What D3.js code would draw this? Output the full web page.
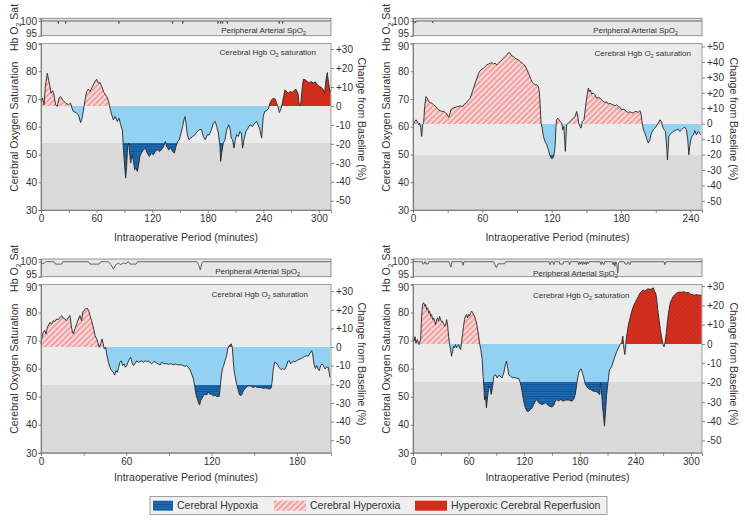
<!DOCTYPE html>
<html><head><meta charset="utf-8">
<script src="https://cdn.jsdelivr.net/npm/d3@7/dist/d3.min.js"></script>
<style>body{margin:0;background:#fff;}svg{font-family:"Liberation Sans",Arial,Helvetica,sans-serif;}</style>
</head><body><svg id="c" width="745" height="522"></svg>
<script>
// ---------- DATA (minutes, cerebral O2 saturation %) ----------
const p1Series=[[0,69.1],[1.8,70.3],[3.2,67.9],[4.7,74.5],[6.8,79.3],[9,75.7],[10.8,72.1],[12.6,73],[14,71.5],[15.8,67.9],[17.6,67.3],[19.4,70.3],[21.2,70.9],[23.4,69.7],[24.8,69.1],[27,68.5],[29.5,67.9],[32,68.5],[33.5,66.7],[34.9,65.5],[37.8,65.1],[40.3,64.3],[42.8,61.5],[44.6,63.4],[46.4,67.3],[48.2,70.9],[49.3,72.7],[51.1,73.5],[52.9,72.7],[55.8,74.7],[58.3,76.3],[60.1,77.1],[61.9,75.7],[63.7,75.9],[65.5,74.5],[68,72.3],[70.9,70.9],[73,69.1],[74.5,66.7],[76.3,64.3],[78.1,62.5],[79.9,63.7],[82.4,61.9],[84.2,63.1],[86,60.7],[87.8,58.9],[88.8,52.9],[90.3,45.7],[91.4,41.5],[92.4,45.7],[93.5,52.9],[94.6,54.1],[95.3,51.7],[96.8,46.9],[98.2,49.9],[99.6,48.1],[101.1,44.5],[102.5,45.1],[104,43.9],[105.4,46.3],[106.8,49.3],[108.3,50.5],[110.4,51.7],[112.6,52.3],[114.7,50.5],[116.9,49.3],[119.1,50.5],[121.2,49.9],[123.4,51.1],[125.5,51.7],[127.7,51.1],[129.9,51.7],[132,52.7],[134.2,54.7],[135.6,52.9],[137.8,51.7],[139.9,52.3],[142.1,51.1],[143.9,50.5],[145.7,52.9],[147.5,54.7],[149.3,55.3],[151.1,57.7],[152.9,60.1],[154.3,62.5],[155.4,63.7],[156.5,61.3],[157.9,57.1],[159.7,55.3],[161.5,55.9],[163.7,56.5],[166.2,57.1],[168.7,58.3],[170.9,58.9],[173,59.1],[175.2,56.5],[177.3,55.3],[179.5,57.1],[181.7,57.1],[183.8,58.9],[186,61.3],[188.1,61.9],[189.6,60.1],[191.4,57.7],[193.2,52.9],[193.9,47.5],[195,50.5],[196.8,54.1],[198.6,55.3],[200.4,58.9],[202.5,60.7],[203.9,59.5],[205.4,55.9],[206.8,55.3],[208.3,52.3],[209.7,55.3],[211.2,57.1],[213,56.5],[214.7,58.3],[216.2,57.7],[217.6,52.3],[219.1,55.3],[221.2,58.3],[223.4,59.5],[225.5,60.7],[228.4,60.1],[230.6,61.3],[232.7,61.9],[234.9,60.3],[236.3,58.9],[238.1,55.9],[239.9,63.7],[241.4,65.5],[243.5,65.8],[245.7,66.7],[247.1,68.5],[248.9,69.7],[250.7,70.3],[252.9,69.9],[254.3,68.5],[255.8,67.3],[257.2,65.1],[258.6,66.1],[260.1,67.9],[261.5,70.3],[263.3,73.3],[265.1,72.7],[266.9,72.1],[268.7,72.7],[270.9,72.3],[273,73],[275.2,73.5],[277.3,72.1],[278.8,67.9],[280.2,67.5],[281.7,73.3],[283.1,77.1],[285.3,76.9],[287.4,76.3],[289.6,75.9],[291.7,76.3],[293.9,75.7],[296,76.2],[298.2,75.1],[300.4,74.5],[302.5,74.2],[304.7,73.3],[306.1,72.1],[307.6,76.9],[309,79.5],[310.4,75.7],[311.9,72.7],[312.6,73.3]];
const p2Series=[[0,60.7],[1.4,61.9],[2.6,62.5],[3.7,61.9],[4.9,60.7],[5.8,61.3],[6.6,59.8],[7.5,56.5],[8.3,60.7],[9.2,61.3],[10.1,67.3],[11.2,70.9],[12.4,70.3],[13.5,69.1],[15,68.7],[16.4,68.5],[17.8,67.9],[19.3,67.5],[20.7,66.7],[22.2,66.1],[23.6,65.8],[25,65.5],[26.5,65.6],[27.9,65.1],[29.4,64.6],[30.8,63.4],[31.7,64.3],[32.8,66.1],[34.2,66.7],[36.5,67.0],[38.8,67.3],[41.2,67.5],[43.2,67.3],[44.6,68.2],[46,68.5],[48.1,69.7],[49.5,70.3],[50.9,72.1],[52.4,73.9],[53.8,75.7],[55.3,77.5],[56.7,79.3],[58.1,80.2],[59.6,80.7],[61,81.1],[62.4,81.7],[63.9,82.3],[65.3,82.6],[66.8,82.9],[68.2,83.1],[69.6,82.6],[71.1,82.9],[72.5,82.3],[74,82.9],[75.4,83.5],[76.8,84.1],[78.3,84.7],[79.7,85.3],[81.2,85.9],[82.6,86.7],[84,86.5],[85.5,85.5],[86.9,85.3],[88.3,84.7],[89.8,84.3],[91.2,84.1],[92.7,83.5],[94.1,83.1],[95.5,82.6],[97,81.9],[98.4,80.7],[99.9,79.3],[101.3,77.8],[102.7,76.3],[104.2,75.7],[105.6,75.1],[107.1,75.1],[108.5,74.5],[109.4,72.1],[110.2,66.1],[110.8,61.3],[111.7,59.5],[112.8,56.5],[114.2,54.7],[115.7,53.5],[117.1,51.7],[118.3,49.9],[119.4,48.7],[120.6,48.6],[121.7,49.3],[122.9,52.9],[123.7,60.1],[124.3,62.5],[125.2,63.1],[126.3,62.5],[127.5,61.9],[128.6,61.3],[129.5,58.9],[130.4,60.1],[131.2,55.3],[131.8,51.1],[132.4,56.5],[132.9,60.7],[134.4,61.3],[135.8,61.9],[137.3,62.5],[138.7,63.1],[140.1,63.7],[141.6,65.5],[142.4,64.3],[143.3,61.3],[144.5,60.1],[145.3,59.5],[146.5,61.9],[147.9,62.5],[148.8,65.5],[150.2,70.3],[151.7,73.9],[152.5,72.7],[153.4,73.3],[154.5,71.8],[156,72.1],[157.4,71.5],[158.8,70.3],[160.3,70.6],[161.7,70.3],[163.2,69.7],[164.6,69.1],[166,68.7],[167.5,69.0],[168.9,68.2],[170.4,68.5],[171.8,68.1],[173.2,67.9],[174.7,67.5],[176.1,67.9],[177.6,67.3],[179,67.0],[180.4,66.1],[181.9,66.3],[183.3,66.1],[184.7,65.5],[186.2,65.1],[187.6,65.4],[189.1,65.1],[190.5,64.9],[191.9,65.5],[193.4,65.5],[194.8,65.1],[196.3,65.8],[197.1,64.9],[198.3,61.3],[199.4,58.9],[200.6,57.7],[202,55.9],[203.5,54.1],[204.9,55.3],[205.8,57.1],[206.9,58.3],[208.1,59.1],[209.2,59.5],[210.6,60.3],[212.1,61.3],[213.5,62.5],[215,61.9],[215.5,60.7],[216.4,59.5],[217.3,58.9],[218.4,58.3],[219.6,51.7],[220.1,48.1],[220.7,51.7],[221.3,56.5],[222.2,57.1],[223.6,57.7],[225,58.3],[226.5,58.6],[227.9,58.9],[229.4,59.1],[230.8,58.3],[232.2,58.9],[233.7,59.5],[235.1,59.8],[236.5,58.9],[237.7,55.3],[238.6,49.9],[239.4,52.9],[240.3,55.3],[241.4,56.5],[242.6,57.1],[243.7,58.6],[245.2,57.1],[246.6,58.3],[248.1,57.7],[248.9,57.1]];
const p3Series=[[0,68.8],[0.7,71.2],[1.6,73.0],[2.6,73.6],[3.5,72.4],[4.5,74.8],[5.4,75.6],[6.3,76.5],[7.5,75.9],[8.7,77.1],[9.8,76.8],[11,77.7],[12.2,77.5],[13.4,78.3],[14.5,78.9],[15.7,78.0],[16.9,77.7],[18.1,77.1],[19.2,78.3],[20.4,78.9],[21.6,74.2],[22.7,72.4],[23.9,74.2],[25.1,75.9],[26.3,77.7],[27.4,78.9],[28.6,77.1],[29.3,80.1],[30.2,80.7],[31.4,81.3],[32.6,81.5],[33.5,80.7],[34.5,78.9],[35.6,77.1],[36.8,74.8],[38,71.8],[39.2,70.6],[40.3,68.8],[41,67.6],[42,68.8],[42.9,70.6],[43.8,68.8],[44.5,67.0],[45.5,67.6],[46.2,65.2],[47.4,62.3],[48.5,60.5],[49.7,59.3],[50.9,58.7],[51.8,57.7],[52.8,59.3],[53.7,58.7],[54.6,60.5],[55.6,62.3],[56.5,62.8],[57.4,61.1],[58.4,61.7],[59.3,60.5],[60.3,61.1],[61.2,62.3],[62.1,63.4],[63.1,64.0],[64,62.3],[64.9,61.1],[66.1,61.7],[67.3,62.8],[68.5,62.3],[69.6,62.5],[70.8,62.8],[72,62.3],[73.2,62.8],[74.3,62.5],[75.5,62.7],[76.7,62.3],[77.8,61.7],[79,62.3],[80.2,62.5],[81.4,62.0],[82.5,61.7],[83.7,61.3],[84.9,62.3],[86.1,61.9],[87.2,61.7],[88.4,61.8],[89.6,61.5],[90.7,61.7],[91.9,61.7],[93.1,61.3],[94.3,61.7],[95.4,61.5],[96.6,61.3],[97.8,61.4],[98.9,61.3],[100.1,61.1],[101.3,60.8],[102.5,61.1],[103.6,60.5],[104.8,59.6],[106,58.1],[107.2,56.3],[108.1,53.9],[109,50.9],[110,49.2],[110.9,47.7],[111.6,47.0],[112.3,48.6],[113.2,49.4],[114.2,50.3],[115.4,50.9],[116.5,50.6],[117.7,51.5],[118.9,50.9],[120,50.9],[121.2,50.3],[122.4,50.6],[123.6,50.1],[124.7,50.1],[125.4,50.1],[125.9,52.7],[126.6,56.3],[127.6,59.9],[128.5,61.1],[129.4,62.8],[130.6,64.6],[131.3,67.0],[132.2,68.2],[132.9,68.4],[133.9,68.8],[134.6,67.6],[135.3,62.3],[136,58.7],[136.9,56.3],[137.6,54.5],[138.6,52.7],[139.5,50.9],[140.4,50.3],[141.4,50.9],[142.3,52.1],[143.3,52.7],[144.2,53.3],[145.1,53.7],[146.5,53.9],[147.9,53.7],[149.4,53.3],[150.8,53.7],[152.2,53.3],[153.6,53.3],[155,53.2],[156.4,53.0],[157.8,53.1],[159.2,53.0],[160.6,52.7],[161.8,53.0],[162.5,55.1],[163.4,59.9],[164.4,62.3],[165.3,62.0],[166.3,61.7],[167.2,60.5],[168.1,60.1],[169.1,59.6],[170,60.1],[170.9,59.6],[171.9,60.1],[172.8,61.1],[173.7,62.7],[174.7,62.8],[175.6,61.7],[176.6,62.3],[177.5,62.6],[178.7,62.5],[179.8,62.8],[181,63.2],[182.2,63.4],[183.4,63.7],[184.5,64.0],[185.7,64.4],[186.9,64.6],[188,64.4],[189.2,65.5],[190.4,66.4],[191.1,65.2],[192,61.7],[193,60.1],[193.9,61.1],[194.8,59.9],[195.8,59.3],[196.7,61.1],[197.7,61.7],[198.6,61.1],[199.8,59.9],[200.9,60.5],[202.1,60.5],[203.3,56.9]];
const p4Series=[[0,70.9],[1.1,69.8],[2.2,71.4],[3.2,69.2],[4.7,70.4],[6.5,68.6],[8.3,70.4],[9.3,78.7],[10.4,82.9],[11.5,83.5],[12.6,82.3],[13.6,82.9],[14.7,81.1],[15.8,81.7],[16.9,79.9],[17.9,80.5],[19,78.7],[20.1,79.3],[21.2,77.5],[22.3,78.1],[23.3,76.9],[24.4,75.7],[25.5,77.5],[26.6,78.1],[27.6,76.9],[28.7,78.7],[29.8,77.5],[30.9,76.6],[31.9,76.9],[33,76.1],[34.1,75.1],[35.2,75.4],[36.3,77.5],[37.3,75.7],[38.4,71.6],[39.5,68.6],[40.6,66.8],[41.6,64.4],[42.7,66.2],[43.8,68.0],[44.9,67.4],[45.9,68.6],[47,67.4],[48.1,68.0],[49.2,68.6],[50.3,67.4],[51.3,66.8],[52.4,69.2],[53.5,72.2],[54.6,75.1],[55.6,77.5],[56.7,78.7],[57.8,79.3],[58.9,78.1],[59.9,79.3],[61,78.7],[62.1,79.7],[63.2,80.5],[64.2,80.1],[65.3,79.3],[66.4,78.7],[67.5,77.5],[68.9,75.7],[70.4,72.7],[71.8,69.2],[73.2,66.8],[74.7,63.3],[75.7,57.3],[76.5,53.7],[77.2,48.9],[78.2,50.2],[79.3,46.0],[80,48.4],[81.1,51.4],[82.2,53.8],[83.3,53.2],[84.4,50.8],[85.4,52.6],[86.5,55.0],[87.2,57.3],[89,57.9],[90.8,56.7],[92.6,57.6],[94.4,57.3],[96.2,56.7],[98,58.5],[99.8,61.5],[100.9,62.7],[101.9,60.9],[103.4,57.9],[105.2,57.3],[107,56.7],[108.8,56.9],[110.6,56.7],[114.1,56.5],[115.9,55.0],[117.7,52.0],[119.5,48.4],[121.3,46.0],[123.1,44.8],[124.9,44.8],[126.7,45.4],[128.5,46.0],[130.3,47.2],[132.1,48.4],[133.9,49.0],[135.7,47.8],[139.3,47.2],[142.9,47.8],[146.4,46.8],[150,46.3],[151.8,46.8],[153.6,48.4],[155.4,49.0],[157.2,48.4],[159,49.0],[162.6,48.4],[164.4,48.8],[168,48.8],[171.6,48.4],[173.4,49.0],[175.2,50.8],[177,55.0],[178.8,58.5],[180.5,59.7],[181.6,59.9],[183.1,58.3],[184.1,57.1],[185.9,54.7],[187.7,53.5],[189.5,52.9],[191.3,52.6],[193.1,52.3],[194.9,51.9],[196.7,51.9],[198.5,51.7],[200.3,51.1],[201.7,50.8],[202.4,55.0],[203.2,52.6],[203.9,50.2],[204.6,46.6],[205.3,44.3],[206,41.9],[206.7,39.5],[207.5,43.1],[208.2,46.6],[208.9,50.2],[210,53.8],[211.1,56.8],[212.1,59.7],[213.2,60.0],[214.6,60.9],[216.4,62.7],[218.2,64.5],[220,66.2],[221.8,67.4],[223.6,68.6],[225.4,69.4],[226.5,71.6],[227.2,68.6],[227.9,66.8],[228.6,65.0],[229.4,66.8],[230.1,70.4],[231.2,72.8],[232.6,75.7],[234.4,78.1],[236.2,80.5],[238,82.3],[239.8,83.5],[241.6,84.7],[243.4,85.8],[245.2,87.0],[247,87.6],[248.7,88.0],[250.5,87.6],[252.3,88.2],[254.1,88.5],[255.9,88.2],[257.7,88.5],[259.5,88.8],[260.6,87.6],[262,87.0],[263.1,84.7],[264.2,81.1],[265.6,77.5],[267,74.0],[268.5,71.0],[269.9,68.6],[271,67.8],[272.1,69.2],[273.5,72.8],[274.9,77.5],[276.4,81.1],[277.8,83.5],[279.3,84.7],[281,85.8],[282.8,86.4],[284.6,87.0],[286.4,87.2],[288.2,87.3],[290,87.2],[291.8,87.4],[293.6,87.3],[295.4,87.0],[297.2,87.2],[299,86.7],[300.8,86.4],[302.6,86.3],[304.4,86.2],[306.2,86.4],[308,86.2],[309.8,86.2],[311.6,86.2]];

// peripheral arterial SpO2 (minutes, %)
const p1Spo2=[[0,100],[18.4,100],[18.7,99.1],[19,100],[26.3,100],[26.6,99.1],[26.9,100],[83.8,100],[84.1,99.1],[84.4,100],[141.7,100],[142,99.1],[142.3,100],[152.7,100],[153,99.1],[153.3,100],[190.7,100],[191,99.1],[191.3,100],[193.5,100],[193.8,99.1],[194.1,100],[195.7,100],[196,99.1],[196.3,100],[200.7,100],[201,99.1],[201.3,100],[256.7,100],[257,99.1],[257.3,100],[260.4,100],[260.7,99.1],[261,100],[313,100]];
const p2Spo2=[[0,100],[0.8,99.2],[1.6,100],[2.2,99.4],[2.8,100],[16.7,100],[17,99.3],[17.3,100],[250,100]];
const p3Spo2=[[0,100],[0.5,99.3],[2.2,99.5],[3.4,100],[9.1,100],[10.3,99.2],[14.5,99.2],[15.4,100],[33.3,100],[34.5,99.2],[40.9,99.2],[42.1,100],[47.3,100],[49.2,99],[51,97.5],[52.5,99],[54.4,99.5],[56.1,99],[57.9,99.6],[59.8,99.4],[61.5,100],[62.7,99.2],[66.9,99.2],[67.9,100],[109.6,100],[110.8,99],[112,97.3],[113.2,99.5],[113.9,100],[204,100]];
const p4Spo2=[[0,100],[10,100],[10.5,99.3],[12,99.3],[12.5,100],[13.5,100],[14,99.3],[16.5,99.3],[17,100],[39,100],[40,99.0],[41,98.2],[42,100],[53,100],[54,98.8],[55,100],[87,100],[88,99.3],[90,98.0],[92,99.3],[99,99.3],[100,100],[147,100],[148,99.0],[149,100],[151,100],[152,99.0],[153,100],[158,100],[158.5,99.2],[162,99.2],[162.5,100],[168,100],[169,99.0],[170,100],[178,100],[179,99.0],[180,100],[181,99.2],[182,100],[183,99.0],[184,100],[185,99.2],[186,100],[187,99.0],[188,100],[189,99.3],[190,100],[202,100],[203,99.0],[204,100],[206,99.0],[207,100],[215,100],[216,99.0],[217,100],[218,98.5],[219,100],[220,99],[221,96.2],[222,99.5],[223,100],[228,100],[229,99.2],[231,99.2],[232,100],[234,99.0],[235,100],[271,100],[272,99.0],[273,100],[312,100]];

const baselines=[67.5,61.1,67.7,68.8];          // 0 % change level
const thresholds=[54,50,54.2,55.1];             // hypoxia threshold
const pctUnit=[0.683,0.556,0.664,0.688];        // saturation points per 1 % change
const xMaxes=[313,250,204,312];
const xLabelTicks=[[0,60,120,180,240,300],[0,60,120,180,240],[0,60,120,180],[0,60,120,180,240,300]];
const pctTicks=[[30,20,10,0,-10,-20,-30,-40,-50],[50,40,30,20,10,0,-10,-20,-30,-40,-50],[30,20,10,0,-10,-20,-30,-40,-50],[30,20,10,0,-10,-20,-30,-40,-50]];
const reperfusion=[[[240,313]],[],[[128,140]],[[212,312]]];
const satTicks=[30,40,50,60,70,80,90];
const spoTicks=[95,100];
const legendItems=["Cerebral Hypoxia","Cerebral Hyperoxia","Hyperoxic Cerebral Reperfusion"];

// ---------- LAYOUT ----------
const cols=[{x0:41,x1:331,rt:358},{x0:413,x1:702,rt:730}];
const rows=[{sTop:18.3,sBot:35.7,mTop:43.5,mBot:210,xt:240.5,rtY:119},{sTop:259,sBot:276.7,mTop:284.5,mBot:452.8,xt:481,rtY:364}];
const labelPos=[
 {spo:{x:306,y:33,a:'end'},cer:{x:316,y:55,a:'end'}},
 {spo:{x:678,y:33,a:'end'},cer:{x:691,y:56,a:'end'}},
 {spo:{x:300,y:274,a:'end'},cer:{x:308,y:296.5,a:'end'}},
 {spo:{x:533,y:276,a:'start'},cer:{x:533,y:298,a:'start'}}
];
const seriesAll=[p1Series,p2Series,p3Series,p4Series];
const spoAll=[p1Spo2,p2Spo2,p3Spo2,p4Spo2];

const C={bgHi:'#ebebeb',bgLo:'#dadada',strip:'#e6e6e6',light:'#93d1f3',line:'#262626',axis:'#6b6b6b',text:'#333'};
const svg=d3.select('#c');
const defs=svg.append('defs');

function pat(id,w,h,bg,rot,lines){
  const p=defs.append('pattern').attr('id',id).attr('patternUnits','userSpaceOnUse').attr('width',w).attr('height',h);
  if(rot) p.attr('patternTransform','rotate('+rot+')');
  p.append('rect').attr('width',w).attr('height',h).attr('fill',bg);
  lines(p);
}
pat('hypo',4,2.4,'#1d6cb4',0,p=>p.append('line').attr('x1',0).attr('x2',4).attr('y1',0.5).attr('y2',0.5).attr('stroke','#0d4a88').attr('stroke-width',0.8));
pat('hyper',4,4,'#f9d8d8',45,p=>p.append('line').attr('x1',1).attr('x2',1).attr('y1',0).attr('y2',4).attr('stroke','#ec8484').attr('stroke-width',1.3));
pat('reper',3,3,'#d9321f',45,p=>p.append('line').attr('x1',1).attr('x2',1).attr('y1',0).attr('y2',3).attr('stroke','#b51f10').attr('stroke-width',0.7));

function clip(id,rects){
  const cp=defs.append('clipPath').attr('id',id);
  rects.forEach(r=>cp.append('rect').attr('x',r[0]).attr('y',r[1]).attr('width',Math.max(0,r[2])).attr('height',Math.max(0,r[3])));
}
function richText(g,x,y,anchor,size,parts,fill){
  const t=g.append('text').attr('x',x).attr('y',y).attr('text-anchor',anchor).attr('font-size',size).attr('fill',fill||C.text);
  let shifted=false;
  parts.forEach(p=>{
    const ts=t.append('tspan').text(p[0]);
    if(p[1]){ts.attr('font-size',size*0.68).attr('dy',size*0.3);shifted=true;}
    else if(shifted){ts.attr('dy',-size*0.3);shifted=false;}
  });
  return t;
}
function styleAxis(g){
  g.select('.domain').attr('stroke',C.axis).attr('stroke-width',0.8);
  g.selectAll('.tick line').attr('stroke',C.axis).attr('stroke-width',0.8);
  g.selectAll('.tick text').attr('fill',C.text).attr('font-size',10).attr('font-family','"Liberation Sans",Arial,sans-serif');
}

for(let i=0;i<4;i++){
  const col=cols[i%2], row=rows[Math.floor(i/2)];
  const data=seriesAll[i], base=baselines[i], thr=thresholds[i];
  const g=svg.append('g');
  const x=d3.scaleLinear().domain([0,xMaxes[i]]).range([col.x0,col.x1]);
  const y=d3.scaleLinear().domain([30,90]).range([row.mBot,row.mTop]);
  const ys=d3.scaleLinear().domain([95,100.9]).range([row.sBot,row.sTop]);
  const yb=Math.round(y(base)), yt=Math.round(y(thr)), w=col.x1-col.x0;

  // backgrounds
  g.append('rect').attr('x',col.x0).attr('y',row.sTop).attr('width',w).attr('height',row.sBot-row.sTop).attr('fill',C.strip);
  g.append('rect').attr('x',col.x0).attr('y',row.mTop).attr('width',w).attr('height',yt-row.mTop).attr('fill',C.bgHi);
  g.append('rect').attr('x',col.x0).attr('y',yt).attr('width',w).attr('height',row.mBot-yt).attr('fill',C.bgLo);

  // clip regions
  const red=reperfusion[i];
  const normal=[]; let s=0;
  red.forEach(r=>{ if(r[0]>s) normal.push([s,r[0]]); s=r[1]; });
  if(s<xMaxes[i]) normal.push([s,xMaxes[i]]);
  clip('pk'+i, normal.map(r=>[x(r[0]),row.mTop,x(r[1])-x(r[0]),yb-row.mTop]));
  clip('rd'+i, red.map(r=>[x(r[0]),row.mTop,x(r[1])-x(r[0]),yb-row.mTop]));
  clip('lb'+i, [[col.x0,yb,w,yt-yb]]);
  clip('db'+i, [[col.x0,yt,w,row.mBot-yt]]);
  clip('st'+i, [[col.x0,row.sTop,w,row.sBot-row.sTop]]);

  const areaBase=d3.area().x(d=>x(d[0])).y0(yb).y1(d=>y(d[1]));
  const areaThr=d3.area().x(d=>x(d[0])).y0(yt).y1(d=>y(d[1]));
  g.append('path').datum(data).attr('d',areaBase).attr('fill','url(#hyper)').attr('clip-path','url(#pk'+i+')');
  if(red.length) g.append('path').datum(data).attr('d',areaBase).attr('fill','url(#reper)').attr('clip-path','url(#rd'+i+')');
  g.append('path').datum(data).attr('d',areaBase).attr('fill',C.light).attr('clip-path','url(#lb'+i+')');
  g.append('path').datum(data).attr('d',areaThr).attr('fill','url(#hypo)').attr('clip-path','url(#db'+i+')');
  g.append('path').datum(data).attr('d',d3.line().x(d=>x(d[0])).y(d=>y(d[1]))).attr('fill','none').attr('stroke',C.line).attr('stroke-width',0.9).attr('stroke-linejoin','round');

  // SpO2 strip line
  g.append('path').datum(spoAll[i]).attr('d',d3.line().x(d=>x(d[0])).y(d=>ys(d[1]))).attr('fill','none').attr('stroke','#444').attr('stroke-width',0.8).attr('clip-path','url(#st'+i+')');

  // frames
  g.append('rect').attr('x',col.x0).attr('y',row.sTop).attr('width',w).attr('height',row.sBot-row.sTop).attr('fill','none').attr('stroke','#7a7a7a').attr('stroke-width',0.8);
  g.append('rect').attr('x',col.x0).attr('y',row.mTop).attr('width',w).attr('height',row.mBot-row.mTop).attr('fill','none').attr('stroke','#8a8a8a').attr('stroke-width',0.8);

  // axes
  const minor=d3.range(0,xMaxes[i]+0.01,30);
  g.append('g').attr('transform','translate(0,'+row.mBot+')')
    .call(d3.axisBottom(x).tickValues(minor).tickSize(3).tickPadding(2).tickFormat(d=>xLabelTicks[i].includes(d)?d:''))
    .call(styleAxis);
  g.append('g').attr('transform','translate('+col.x0+',0)')
    .call(d3.axisLeft(y).tickValues(satTicks).tickSize(2.5).tickPadding(1.5).tickFormat(d=>d))
    .call(styleAxis)
    .call(a=>a.selectAll('.tick text').filter(d=>d===90).attr('dy','0.55em'));
  g.append('g').attr('transform','translate('+col.x0+',0)')
    .call(d3.axisLeft(ys).tickValues(spoTicks).tickSize(2.5).tickPadding(1.5).tickFormat(d=>d))
    .call(styleAxis)
    .call(a=>a.selectAll('.tick text').filter(d=>d===95).attr('dy','0.1em'));
  const yp=d3.scaleLinear().domain([-60,60]).range([y(base-60*pctUnit[i]),y(base+60*pctUnit[i])]);
  g.append('g').attr('transform','translate('+col.x1+',0)')
    .call(d3.axisRight(yp).tickValues(pctTicks[i]).tickSize(3).tickPadding(2).tickFormat(d=>d>0?'+'+d:String(d)))
    .call(g2=>{styleAxis(g2);g2.select('.domain').remove();});

  // in-plot labels
  const lp=labelPos[i];
  richText(g,lp.spo.x,lp.spo.y,lp.spo.a,8,[['Peripheral Arterial SpO'],['2',true]]);
  richText(g,lp.cer.x,lp.cer.y,lp.cer.a,8,[['Cerebral Hgb O'],['2',true],[' saturation']]);

  // axis titles
  g.append('text').attr('x',(col.x0+col.x1)/2).attr('y',row.xt).attr('text-anchor','middle').attr('font-size',10.5).attr('fill',C.text).text('Intraoperative Period (minutes)');
  g.append('text').attr('transform','translate('+(col.x0-23)+','+((row.mTop+row.mBot)/2)+') rotate(-90)').attr('text-anchor','middle').attr('font-size',10.5).attr('fill',C.text).text('Cerebral Oxygen Saturation');
  const hb=g.append('g').attr('transform','translate('+(col.x0-23)+','+((row.sTop+row.sBot)/2+0.5)+') rotate(-90)');
  richText(hb,0,0,'middle',10.5,[['Hb O'],['2',true],[' Sat']]);
  g.append('text').attr('transform','translate('+col.rt+','+row.rtY+') rotate(90)').attr('text-anchor','middle').attr('font-size',10.5).attr('fill',C.text).text('Change from Baseline (%)');
}

// ---------- LEGEND ----------
const lg=svg.append('g');
lg.append('rect').attr('x',150).attr('y',496.5).attr('width',457).attr('height',18).attr('fill','#efefef').attr('stroke','#8a8a8a').attr('stroke-width',0.8);
const fills=['url(#hypo)','url(#hyper)','url(#reper)'];
const sw=[[153,173],[274,306],[415,447]];
legendItems.forEach((name,k)=>{
  lg.append('rect').attr('x',sw[k][0]).attr('y',500.7).attr('width',sw[k][1]-sw[k][0]).attr('height',10).attr('fill',fills[k]);
  lg.append('text').attr('x',sw[k][1]+4).attr('y',509.3).attr('font-size',10.5).attr('fill',C.text).text(name);
});
</script></body></html>
